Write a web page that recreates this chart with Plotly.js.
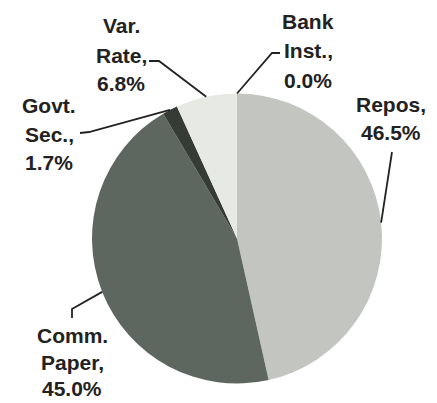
<!DOCTYPE html>
<html>
<head>
<meta charset="utf-8">
<script src="https://cdn.plot.ly/plotly-3.0.1.min.js"></script>
<style>html,body{margin:0;padding:0;background:#fff;}#chart{width:437px;height:403px;}</style>
</head>
<body>
<div id="chart"></div>
<script>
// ---- data ----
var categories = ["Repos", "Comm. Paper", "Govt. Sec.", "Var. Rate", "Bank Inst."];
var labelLines = [["Repos,"], ["Comm.", "Paper,"], ["Govt.", "Sec.,"], ["Var.", "Rate,"], ["Bank", "Inst.,"]];
var shares = [46.5, 45.0, 1.7, 6.8, 0.0];
var sliceColors = ["#c3c5c1", "#5d675f", "#353c36", "#e7e9e5", "#cccccc"];

// ---- layout geometry (pixels) ----
var W = 437, H = 403;
var CX = 237, CY = 238.5, R = 145;
// label line centres [x, [y per line]] and leader elbow / end points
var labelPos = [
  {x: 391, ys: [104, 132], path: [[392, 152]]},
  {x: 72,  ys: [335, 362, 388], path: [[72, 309], [72, 318]]},
  {x: 49,  ys: [105, 134, 162], path: [[89, 132], [80, 133]]},
  {x: 121, ys: [25, 55, 84], path: [[159, 61], [149, 61]]},
  {x: 308, ys: [22, 51, 80], path: [[272, 53], [280, 53]]}
];

function px(x) { return x / W; }
function py(y) { return 1 - y / H; }

var total = shares.reduce(function (a, b) { return a + b; }, 0);
var annotations = [], shapes = [];
var cum = 0;
shares.forEach(function (v, i) {
  var mid = (cum + v / 2) / total * 2 * Math.PI;
  cum += v;
  var sx = CX + R * Math.sin(mid), sy = CY - R * Math.cos(mid);
  var pts = [[sx, sy]].concat(labelPos[i].path);
  var d = pts.map(function (p, k) { return (k ? "L" : "M") + px(p[0]).toFixed(5) + "," + py(p[1]).toFixed(5); }).join(" ");
  shapes.push({type: "path", xref: "paper", yref: "paper", path: d, line: {color: "#222222", width: 1.8}});
  var lines = labelLines[i].concat([v.toFixed(1) + "%"]);
  lines.forEach(function (t, k) {
    annotations.push({
      text: t, xref: "paper", yref: "paper",
      x: px(labelPos[i].x), y: py(labelPos[i].ys[k]),
      xanchor: "center", yanchor: "middle", showarrow: false,
      font: {family: "Liberation Sans, Arial, sans-serif", size: 21, color: "#222222", weight: "bold"}
    });
  });
});

var trace = {
  type: "pie",
  labels: categories,
  values: shares,
  sort: false,
  direction: "clockwise",
  rotation: 0,
  textinfo: "none",
  hoverinfo: "label+percent",
  marker: {colors: sliceColors, line: {width: 0}},
  domain: {x: [px(CX - R), px(CX + R)], y: [py(CY + R), py(CY - R)]},
  showlegend: false
};

Plotly.newPlot("chart", [trace], {
  width: W, height: H,
  margin: {l: 0, r: 0, t: 0, b: 0},
  paper_bgcolor: "#ffffff",
  showlegend: false,
  annotations: annotations,
  shapes: shapes
}, {displayModeBar: false, staticPlot: true});
</script>
</body>
</html>
